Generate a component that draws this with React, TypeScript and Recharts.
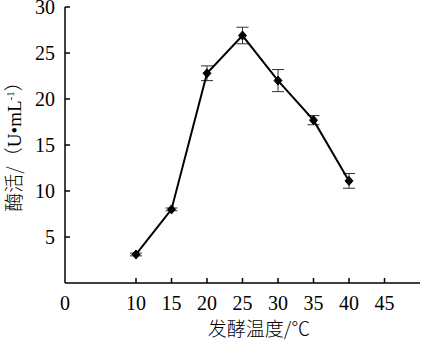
import React from 'react';
import { LineChart, Line, XAxis, YAxis, ErrorBar } from 'recharts';

const temperatures = [10, 15, 20, 25, 30, 35, 40];
const activity = [3.1, 8.0, 22.8, 26.9, 22.0, 17.7, 11.1];
const errors = [0.15, 0.15, 0.8, 0.9, 1.2, 0.5, 0.8];
const xTicks = [0, 10, 15, 20, 25, 30, 35, 40, 45];
const yTicks = [5, 10, 15, 20, 25, 30];

const data = temperatures.map((t, i) => ({ t, v: activity[i], err: errors[i] }));

const FONT = '"Liberation Serif", "Times New Roman", "Noto Sans CJK SC", serif';
const CJK = '"Noto Sans CJK SC", "Liberation Serif", serif';
const Y_MARGIN = 10;
const X_MARGIN = 13;

const YTick = (props: any) => {
  const { x, y, payload } = props;
  const ax = x + Y_MARGIN;
  return (
    <g>
      <line x1={ax} x2={ax + 5} y1={y} y2={y} stroke="#000" strokeWidth={1.5} />
      <text x={x} y={y} dy="0.35em" textAnchor="end" fontFamily={FONT} fontSize={20} fill="#000">
        {payload.value}
      </text>
    </g>
  );
};

const XTick = (props: any) => {
  const { x, y, payload } = props;
  const ay = y - X_MARGIN;
  return (
    <g>
      {payload.value !== 0 && <line x1={x} x2={x} y1={ay} y2={ay - 5} stroke="#000" strokeWidth={1.5} />}
      <text x={x} y={y} dy="0.71em" textAnchor="middle" fontFamily={FONT} fontSize={20} fill="#000">
        {payload.value}
      </text>
    </g>
  );
};

const Diamond = (props: any) => {
  const { cx, cy, index } = props;
  if (cx == null || cy == null) return <g key={index} />;
  return (
    <polygon
      key={index}
      points={`${cx},${cy - 4.5} ${cx + 4},${cy} ${cx},${cy + 4.5} ${cx - 4},${cy}`}
      fill="#000"
      stroke="#000"
    />
  );
};

const YLabel = () => (
  <text
    x={0}
    y={0}
    transform="translate(21,142) rotate(-90)"
    textAnchor="middle"
    fontFamily={FONT}
    fontSize={19}
    fill="#000"
  >
    <tspan fontFamily={CJK} fontWeight={300}>酶活/（</tspan>
    <tspan>U•mL</tspan>
    <tspan fontSize={11} dy={-7}>-1</tspan>
    <tspan fontFamily={CJK} fontWeight={300} dy={7}>）</tspan>
  </text>
);

const XLabel = () => (
  <text x={259} y={336} textAnchor="middle" fontFamily={CJK} fontWeight={300} fontSize={19} fill="#000">
    发酵温度/℃
  </text>
);

export default function App() {
  return (
    <div style={{ position: 'absolute', left: 0, top: 0, width: 432, height: 347, background: '#fff' }}>
      <LineChart width={432} height={347} data={data} margin={{ top: 7, right: 12, bottom: 0, left: 0 }}>
        <XAxis
          dataKey="t"
          type="number"
          domain={[0, 50]}
          ticks={xTicks}
          interval={0}
          height={64}
          tickSize={0}
          tickMargin={X_MARGIN}
          tick={<XTick />}
          axisLine={{ stroke: '#000', strokeWidth: 1.5 }}
          tickLine={false}
          label={<XLabel />}
        />
        <YAxis
          type="number"
          domain={[0, 30]}
          ticks={yTicks}
          interval={0}
          width={65}
          tickSize={0}
          tickMargin={Y_MARGIN}
          tick={<YTick />}
          axisLine={{ stroke: '#000', strokeWidth: 1.5 }}
          tickLine={false}
          label={<YLabel />}
        />
        <Line
          dataKey="v"
          stroke="#000"
          strokeWidth={2}
          dot={Diamond}
          activeDot={false}
          isAnimationActive={false}
        >
          <ErrorBar dataKey="err" direction="y" width={6} stroke="#333" strokeWidth={1} />
        </Line>
      </LineChart>
    </div>
  );
}
